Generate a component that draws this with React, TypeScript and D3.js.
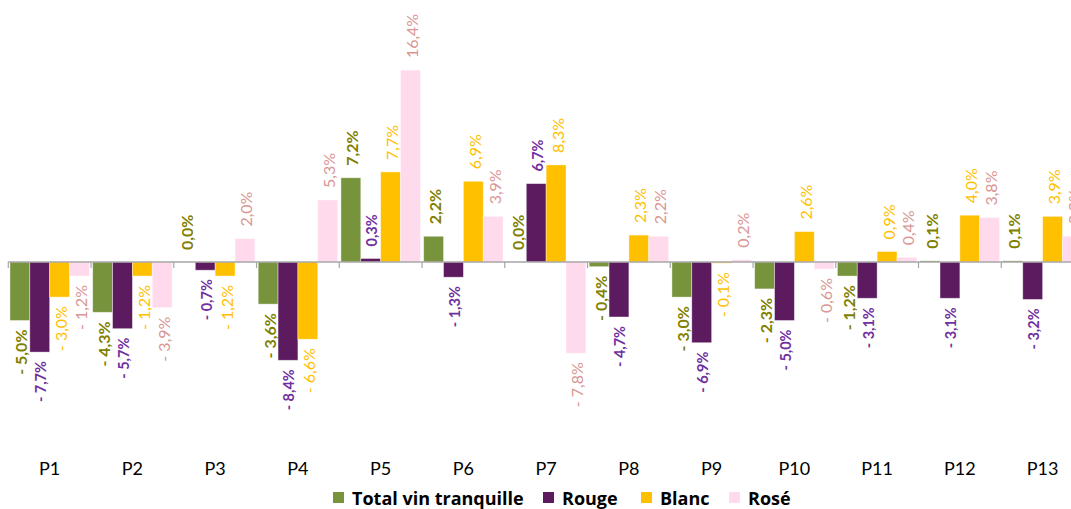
import React from 'react';
import * as d3 from 'd3';

const periods = ['P1', 'P2', 'P3', 'P4', 'P5', 'P6', 'P7', 'P8', 'P9', 'P10', 'P11', 'P12', 'P13'];
const seriesNames = ['Total vin tranquille', 'Rouge', 'Blanc', 'Rosé'];

const totalValues = [-5.0, -4.3, 0.0, -3.6, 7.2, 2.2, 0.0, -0.4, -3.0, -2.3, -1.2, 0.1, 0.1];
const rougeValues = [-7.7, -5.7, -0.7, -8.4, 0.3, -1.3, 6.7, -4.7, -6.9, -5.0, -3.1, -3.1, -3.2];
const blancValues = [-3.0, -1.2, -1.2, -6.6, 7.7, 6.9, 8.3, 2.3, -0.1, 2.6, 0.9, 4.0, 3.9];
const roseValues = [-1.2, -3.9, 2.0, 5.3, 16.4, 3.9, -7.8, 2.2, 0.2, -0.6, 0.4, 3.8, 2.2];

const W = 1071;
const H = 509;

// styles per series
const barColors = ['#77933C', '#5C1A5F', '#FFC000', '#FFD9EC'];
const labelColors = ['#7F8000', '#7030A0', '#FFC000', '#D99694'];
const labelSizes = [16, 14.5, 16, 16];
const labelWeights = [700, 700, 400, 400];

const fmt = (v: number) => {
  const s = Math.abs(v).toFixed(1).replace('.', ',') + '%';
  return v < 0 ? '- ' + s : s;
};

export default function App(): JSX.Element {
  const all = [totalValues, rougeValues, blancValues, roseValues];

  const x0 = d3
    .scaleBand()
    .domain(periods)
    .range([8.3, 1084])
    .paddingInner(0.04)
    .paddingOuter(0.02);
  const x1 = d3.scaleBand().domain(seriesNames).range([0, x0.bandwidth()]).padding(0);
  const y = d3.scaleLinear().domain([-10, 18]).range([262 + 117, 262 - 210.6]);

  const step = x0.step();
  const start = x0.range()[0];
  const ticks = d3.range(periods.length + 1).map((i) => start + i * step);

  const legendX = [333, 543, 641, 729];

  return (
    <svg
      width={W}
      height={H}
      style={{ position: 'absolute', left: 0, top: 0, background: '#fff' }}
      fontFamily="Lato, 'Open Sans', sans-serif"
    >
      {all.map((vals, si) =>
        vals.map((v, i) => {
          const bx = (x0(periods[i]) || 0) + (x1(seriesNames[si]) || 0);
          const top = Math.min(y(v), y(0));
          const h = Math.abs(y(v) - y(0));
          return (
            <rect
              key={`b${si}-${i}`}
              x={bx}
              y={top}
              width={x1.bandwidth()}
              height={h}
              fill={barColors[si]}
              stroke="#ffffff"
              strokeOpacity={0.5}
              strokeWidth={0.8}
            />
          );
        })
      )}

      {/* zero axis */}
      <line x1={start} x2={W + 20} y1={y(0)} y2={y(0)} stroke="#A6A6A6" strokeWidth={1.5} />
      {ticks.map((t, i) => (
        <line key={`t${i}`} x1={t} x2={t} y1={y(0)} y2={y(0) + 6} stroke="#A6A6A6" strokeWidth={1.2} />
      ))}

      {all.map((vals, si) =>
        vals.map((v, i) => {
          const cx = (x0(periods[i]) || 0) + (x1(seriesNames[si]) || 0) + x1.bandwidth() / 2 + 1;
          const neg = v < 0;
          const ly = neg ? y(v) + 9 : y(v) - 12;
          return (
            <text
              key={`l${si}-${i}`}
              transform={`translate(${cx},${ly}) rotate(-90)`}
              textAnchor={neg ? 'end' : 'start'}
              dominantBaseline="central"
              fontSize={labelSizes[si]}
              fontWeight={labelWeights[si]}
              fill={labelColors[si]}
            >
              {fmt(v)}
            </text>
          );
        })
      )}

      {periods.map((p) => (
        <text
          key={p}
          x={(x0(p) || 0) + x0.bandwidth() / 2}
          y={475}
          textAnchor="middle"
          fontSize={18}
          fill="#000"
        >
          {p}
        </text>
      ))}

      {seriesNames.map((s, i) => (
        <g key={s} transform={`translate(${legendX[i]},0)`}>
          <rect x={0} y={492} width={11} height={11} fill={barColors[i]} />
          <text
            x={19}
            y={505}
            fontSize={18}
            fontWeight={700}
            fontFamily="'Open Sans', Lato, sans-serif"
            fill="#000"
          >
            {s}
          </text>
        </g>
      ))}
    </svg>
  );
}
